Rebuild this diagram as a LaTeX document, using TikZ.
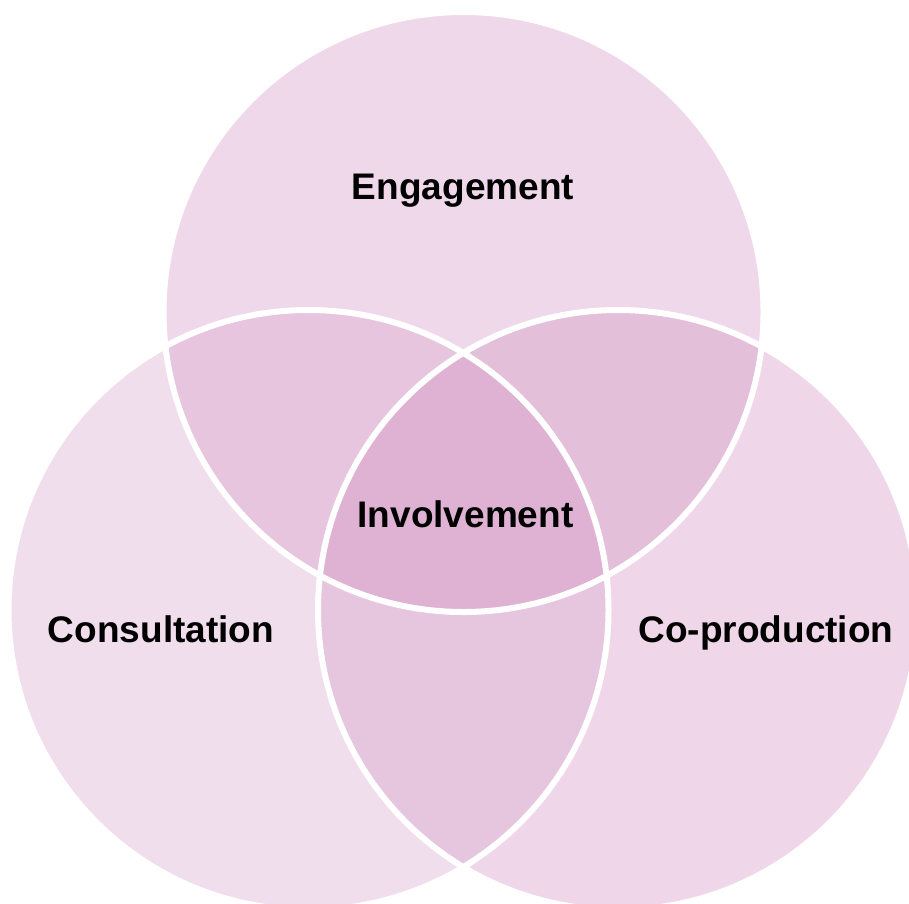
\documentclass[tikz,border=0pt]{standalone}
\usepackage{fontspec}
\setmainfont{Liberation Sans}
\definecolor{pinkTop}{HTML}{EFD8EA}
\definecolor{pinkLeft}{HTML}{F1DEED}
\definecolor{pinkRight}{HTML}{EFD7E9}
\definecolor{pinkTL}{HTML}{E7C5DE}
\definecolor{pinkTR}{HTML}{E3BFDA}
\definecolor{pinkLR}{HTML}{E6C5DE}
\definecolor{pinkAll}{HTML}{DFB2D4}
\begin{document}
\begin{tikzpicture}[x=1pt,y=-1pt]
\path[use as bounding box] (0,0) rectangle (909,903);
\clip (0,0) rectangle (909,903);

\tikzstyle{every node}+=[font=\fontsize{37}{44}\selectfont\bfseries,anchor=base]
\tikzstyle{rim}=[white,line width=6pt]

\coordinate (t) at (463.5,312);
\coordinate (l) at (308.5,610);
\coordinate (r) at (618,610);

\fill[pinkTop] (t) circle[radius=300pt];
\fill[pinkLeft] (l) circle[radius=300pt];
\fill[pinkRight] (r) circle[radius=300pt];

% overlaps
\begin{scope}
\clip (t) circle[radius=300pt];
\fill[pinkTL] (l) circle[radius=300pt];
\fill[pinkTR] (r) circle[radius=300pt];
\end{scope}
\begin{scope}
\clip (l) circle[radius=300pt];
\fill[pinkLR] (r) circle[radius=300pt];
\clip (r) circle[radius=300pt];
\fill[pinkAll] (t) circle[radius=300pt];
\end{scope}

\draw[rim] (t) circle[radius=300pt]
           (l) circle[radius=300pt]
           (r) circle[radius=300pt];

\node (eng) at (463,199) {Engagement};
\node (inv) at (465.5,527) {Involvement};
\node (con) at (161,642) {Consultation};
\node (cop) at (766,642) {Co-production};
\end{tikzpicture}
\end{document}
